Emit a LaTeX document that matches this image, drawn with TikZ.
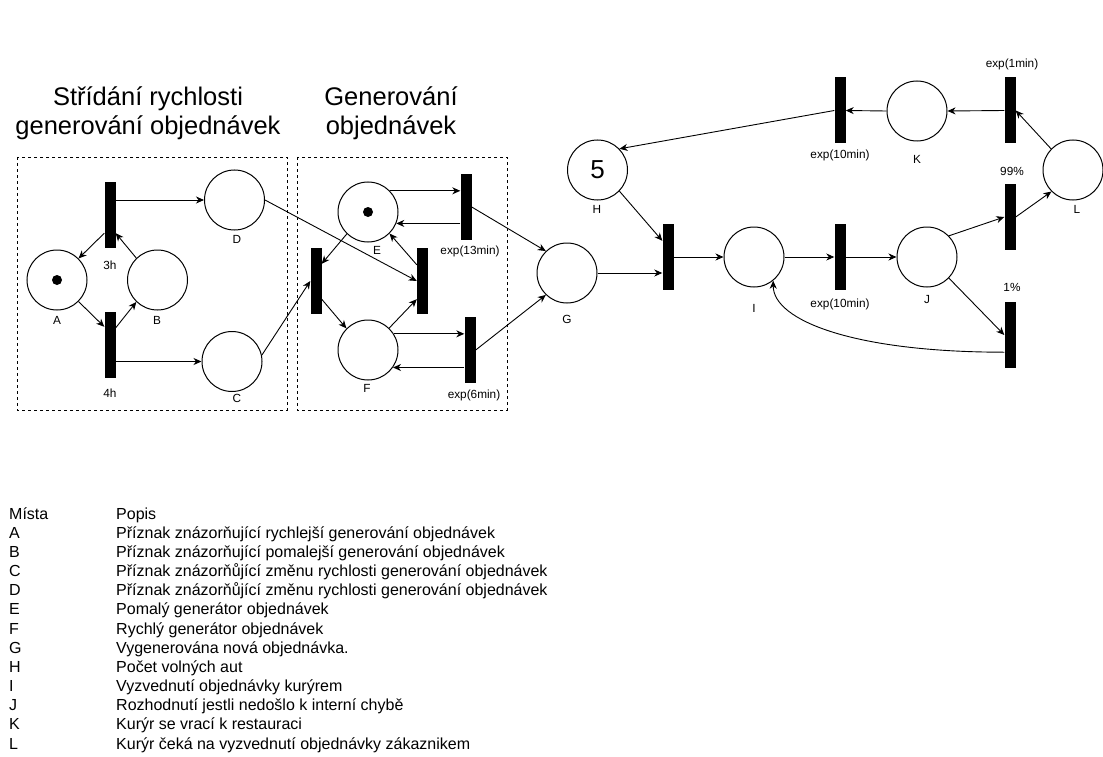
\documentclass[tikz,border=0pt]{standalone}
\usepackage{fontspec}
\setmainfont{Liberation Sans}
\usetikzlibrary{arrows.meta}
\begin{document}
\begin{tikzpicture}[x=1pt,y=-1pt,
  place/.style={circle,draw,line width=1pt,minimum size=60pt,inner sep=0pt},
  trans/.style={rectangle,fill=black,minimum width=11pt,minimum height=66pt,inner sep=0pt},
  token/.style={circle,fill=black,minimum size=10pt,inner sep=0pt},
  lbl/.style={font=\fontsize{11.8}{14}\selectfont,inner sep=0pt},
  arc/.style={line width=0.9pt,-{Stealth[length=8pt,width=7pt,inset=2.5pt]}},
  group/.style={draw,dash pattern=on 3pt off 3pt,line width=0.9pt},
  title/.style={font=\fontsize{25.5}{30}\selectfont,anchor=base,inner sep=0pt},
  legend/.style={font=\fontsize{16}{19}\selectfont,anchor=base west,inner sep=0pt}
]
\fill[white] (0,0) rectangle (1103,757);
\useasboundingbox (0,0) rectangle (1103,757);

% section titles
\node[title] (t1a) at (148,106) {Střídání rychlosti};
\node[title] (t1b) at (148,135) {generování objednávek};
\node[title] (t2a) at (391,106) {Generování};
\node[title] (t2b) at (391,135) {objednávek};

% dashed group frames
\draw[group] (17,157) rectangle (287,410);
\draw[group] (297,157) rectangle (507,410);

% places
\node[place] (A) at (57,280) {};
\node[token] (tokA) at (A) {};
\node[place] (B) at (157.5,280) {};
\node[place] (D) at (234.5,200) {};
\node[place] (C) at (232,361.5) {};
\node[place] (E) at (368,212) {};
\node[token] (tokE) at (E) {};
\node[place] (F) at (368,350) {};
\node[place] (G) at (567,273) {};
\node[place,font=\fontsize{26}{30}\selectfont] (H) at (597.5,170) {5};
\node[place] (I) at (754,257) {};
\node[place] (J) at (927,257) {};
\node[place] (K) at (917,111) {};
\node[place] (L) at (1073,170) {};

% transitions
\node[trans] (T1) at (110,215) {};
\node[trans] (T2) at (110,345) {};
\node[trans] (T3) at (316,281) {};
\node[trans] (T4) at (422.5,281) {};
\node[trans] (T5) at (466,207) {};
\node[trans] (T6) at (470,350) {};
\node[trans] (T7) at (668,257) {};
\node[trans] (T8) at (840,257) {};
\node[trans] (T9) at (1010,217) {};
\node[trans] (T10) at (1010,335) {};
\node[trans] (T11) at (1010,110.5) {};
\node[trans] (T12) at (840,110.5) {};

% place labels
\node[lbl] (lA) at (57,320) {A};
\node[lbl] (lB) at (157,320) {B};
\node[lbl] (lD) at (237,239) {D};
\node[lbl] (lC) at (237,398) {C};
\node[lbl] (lE) at (377,250) {E};
\node[lbl] (lF) at (367,388) {F};
\node[lbl] (lG) at (567,319) {G};
\node[lbl] (lH) at (597,209) {H};
\node[lbl] (lI) at (754,308) {I};
\node[lbl] (lJ) at (927,299) {J};
\node[lbl] (lK) at (917,159) {K};
\node[lbl] (lL) at (1077,209) {L};

% transition labels
\node[lbl] (l3h) at (110,265) {3h};
\node[lbl] (l4h) at (110,393) {4h};
\node[lbl] (l13) at (470,251) {exp(13min)};
\node[lbl] (l6) at (474,395) {exp(6min)};
\node[lbl] (l10a) at (840,304) {exp(10min)};
\node[lbl] (l10b) at (840,155) {exp(10min)};
\node[lbl] (l1m) at (1012,64) {exp(1min)};
\node[lbl] (l99) at (1012,171) {99\%};
\node[lbl] (l1p) at (1012,287) {1\%};

% arcs: switching of generation rate
\draw[arc] ([yshift=15pt]T1.south west) -- (A.45);
\draw[arc] (A.-45) -- ([yshift=-15pt]T2.north west);
\draw[arc] ([yshift=-16pt]T2.north east) -- (B.226);
\draw[arc] (B.134) -- ([yshift=15pt]T1.south east);
\draw[arc] (T1.east |- D.west) -- (D.west);
\draw[arc] (T2.east |- C.west) -- (C.west);
\draw[arc] (D.east) -- (T4.west);
\draw[arc] (C.12) -- (T3.west);

% arcs: order generators
\draw[arc] (E.44) -- (E.44 -| T5.west);
\draw[arc] (E.-22 -| T5.west) -- (E.-22);
\draw[arc] (E.226) -- ([yshift=-16pt]T3.north east);
\draw[arc] ([yshift=15pt]T3.south east) -- (F.135);
\draw[arc] (F.46) -- ([yshift=15pt]T4.south west);
\draw[arc] ([yshift=-17pt]T4.north west) -- (E.-45);
\draw[arc] (F.32) -- (F.32 -| T6.west);
\draw[arc] (F.-35 -| T6.west) -- (F.-35);
\draw[arc] (T5.east) -- (G.134);
\draw[arc] (T6.east) -- (G.226);

% arcs: courier cycle
\draw[arc] (G.east) -- (G.east -| T7.west);
\draw[arc] (H.-44) -- ([yshift=-17pt]T7.north west);
\draw[arc] (T7.east) -- (I.west);
\draw[arc] (I.east) -- (T8.west);
\draw[arc] (T8.east) -- (J.west);
\draw[arc] (J.44) -- (T9.west);
\draw[arc] (T9.east) -- (L.-135);
\draw[arc] (J.-44) -- (T10.west);
\draw[arc] ([yshift=16pt]T10.south west) .. controls +(-150,0) and +(0,40) .. (I.-51);
\draw[arc] (L.136) -- (T11.east);
\draw[arc] (T11.west) -- (K.east);
\draw[arc] (K.west) -- (T12.east);
\draw[arc] (T12.west) -- (H.44);

% legend
\node[legend] (legk0) at (9,519) {Místa};
\node[legend] (legt0) at (116,519) {Popis};
\foreach \k/\t [count=\i] in {
  A/Příznak znázorňující rychlejší generování objednávek,
  B/Příznak znázorňující pomalejší generování objednávek,
  C/Příznak znázorňůjící změnu rychlosti generování objednávek,
  D/Příznak znázorňůjící změnu rychlosti generování objednávek,
  E/Pomalý generátor objednávek,
  F/Rychlý generátor objednávek,
  G/Vygenerována nová objednávka.,
  H/Počet volných aut,
  I/Vyzvednutí objednávky kurýrem,
  J/Rozhodnutí jestli nedošlo k interní chybě,
  K/Kurýr se vrací k restauraci,
  L/Kurýr čeká na vyzvednutí objednávky zákaznikem}{
  \node[legend] (legk\i) at (9,519+19.17*\i) {\k};
  \node[legend] (legt\i) at (116,519+19.17*\i) {\t};
}
\end{tikzpicture}
\end{document}
